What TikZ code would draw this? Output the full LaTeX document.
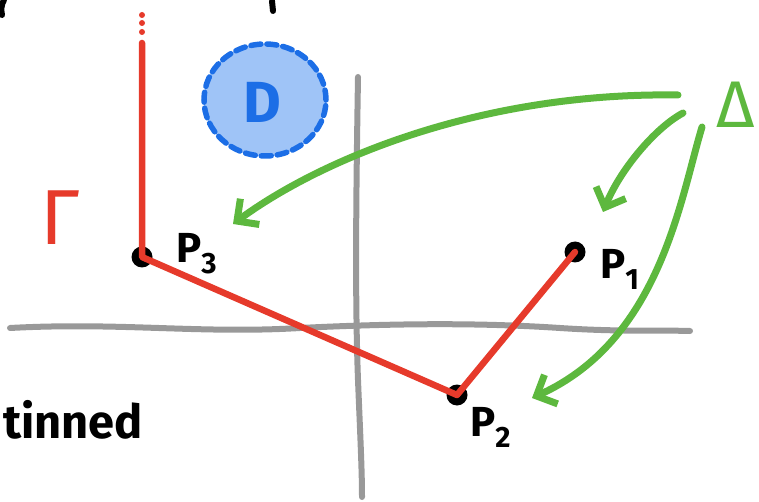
\documentclass[tikz,border=0pt]{standalone}
\usepackage{fontspec}
\setmainfont{Fira Sans}
\usetikzlibrary{arrows.meta,shapes.geometric}
\definecolor{pred}{HTML}{E63A2B}
\definecolor{pgreen}{HTML}{5DB83E}
\definecolor{pgray}{HTML}{999999}
\definecolor{pblue}{HTML}{1C6EE6}
\definecolor{pfill}{HTML}{9FC4F7}
\tikzset{
  axis/.style={pgray,line width=6pt,line cap=round},
  redline/.style={pred,line width=6.5pt,line cap=round,line join=round},
  garrow/.style={pgreen,line width=7pt,line cap=round,-{Straight Barb[length=16pt,width=32pt,line width=7pt]}},
  dot/.style={circle,fill=black,inner sep=0pt,minimum size=21pt},
  plabel/.style={font=\bfseries\fontsize{42}{42}\selectfont,inner sep=0pt},
  ink/.style={black,line width=6pt,line cap=round}
}
\begin{document}
\begin{tikzpicture}[x=1pt,y=-1pt]
\useasboundingbox (0,0) rectangle (759,502);
% fragments of cut-off writing at the top
\draw[ink] (272,1) -- (273,11);
\draw[ink] (4,0) .. controls (1,5) and (1,10) .. (2,15);
% axes
\draw[axis] (10,328) .. controls (120,322) and (200,334) .. (300,328)
  .. controls (420,322) and (500,324) .. (560,328) .. controls (620,332) and (660,330) .. (690,331);
\draw[axis] (358,77) .. controls (356,200) and (355,300) .. (358,380) .. controls (360,430) and (362,470) .. (362,497);
% region D
\node[ellipse,draw=pblue,fill=pfill,line width=5.5pt,dash pattern=on 10pt off 6pt,line cap=round,
  minimum width=122pt,minimum height=112pt] (D) at (265,100) {};
\node[text=pblue,font=\bfseries\fontsize{58}{58}\selectfont,inner sep=0pt] (Dl) at (262,102) {D};
% points
\node[dot] (p3) at (142,257) {};
\node[dot] (p2) at (457,395) {};
\node[dot] (p1) at (575,252) {};
\coordinate (top) at (142,43);
\draw[redline] (top) -- (p3.center) -- (p2.center) -- (p1.center);
\foreach \y in {15,23,32} \fill[pred] (142,\y) circle (3pt);
% labels
\node[plabel,anchor=base west] (l3) at (176,262) {P\textsubscript{3}};
\node[plabel,anchor=base west] (l1) at (600,278) {P\textsubscript{1}};
\node[plabel,anchor=base west] (l2) at (470,436) {P\textsubscript{2}};
\node[text=pred,font=\fontsize{78}{78}\selectfont,inner sep=0pt,anchor=base west] (G) at (40,245) {Γ};
\node[text=pgreen,font=\fontsize{66}{66}\selectfont,inner sep=0pt,anchor=base west] (Del) at (716,128) {Δ};
\node[font=\bfseries\fontsize{47}{47}\selectfont,inner sep=0pt,anchor=base west] (txt) at (3,438) {tinned};
% green arrows
\coordinate (s1) at (678,95);
\coordinate (s2) at (683,113);
\coordinate (s3) at (702,127);
\coordinate (e1) at (233,224);
\coordinate (e2) at (603,212);
\coordinate (e3) at (532,398);
\draw[garrow] (s1) .. controls (480,92) and (320,160) .. (e1);
\draw[garrow] (s2) .. controls (655,128) and (620,170) .. (e2);
\draw[garrow] (s3) .. controls (680,200) and (660,340) .. (e3);
\end{tikzpicture}
\end{document}
